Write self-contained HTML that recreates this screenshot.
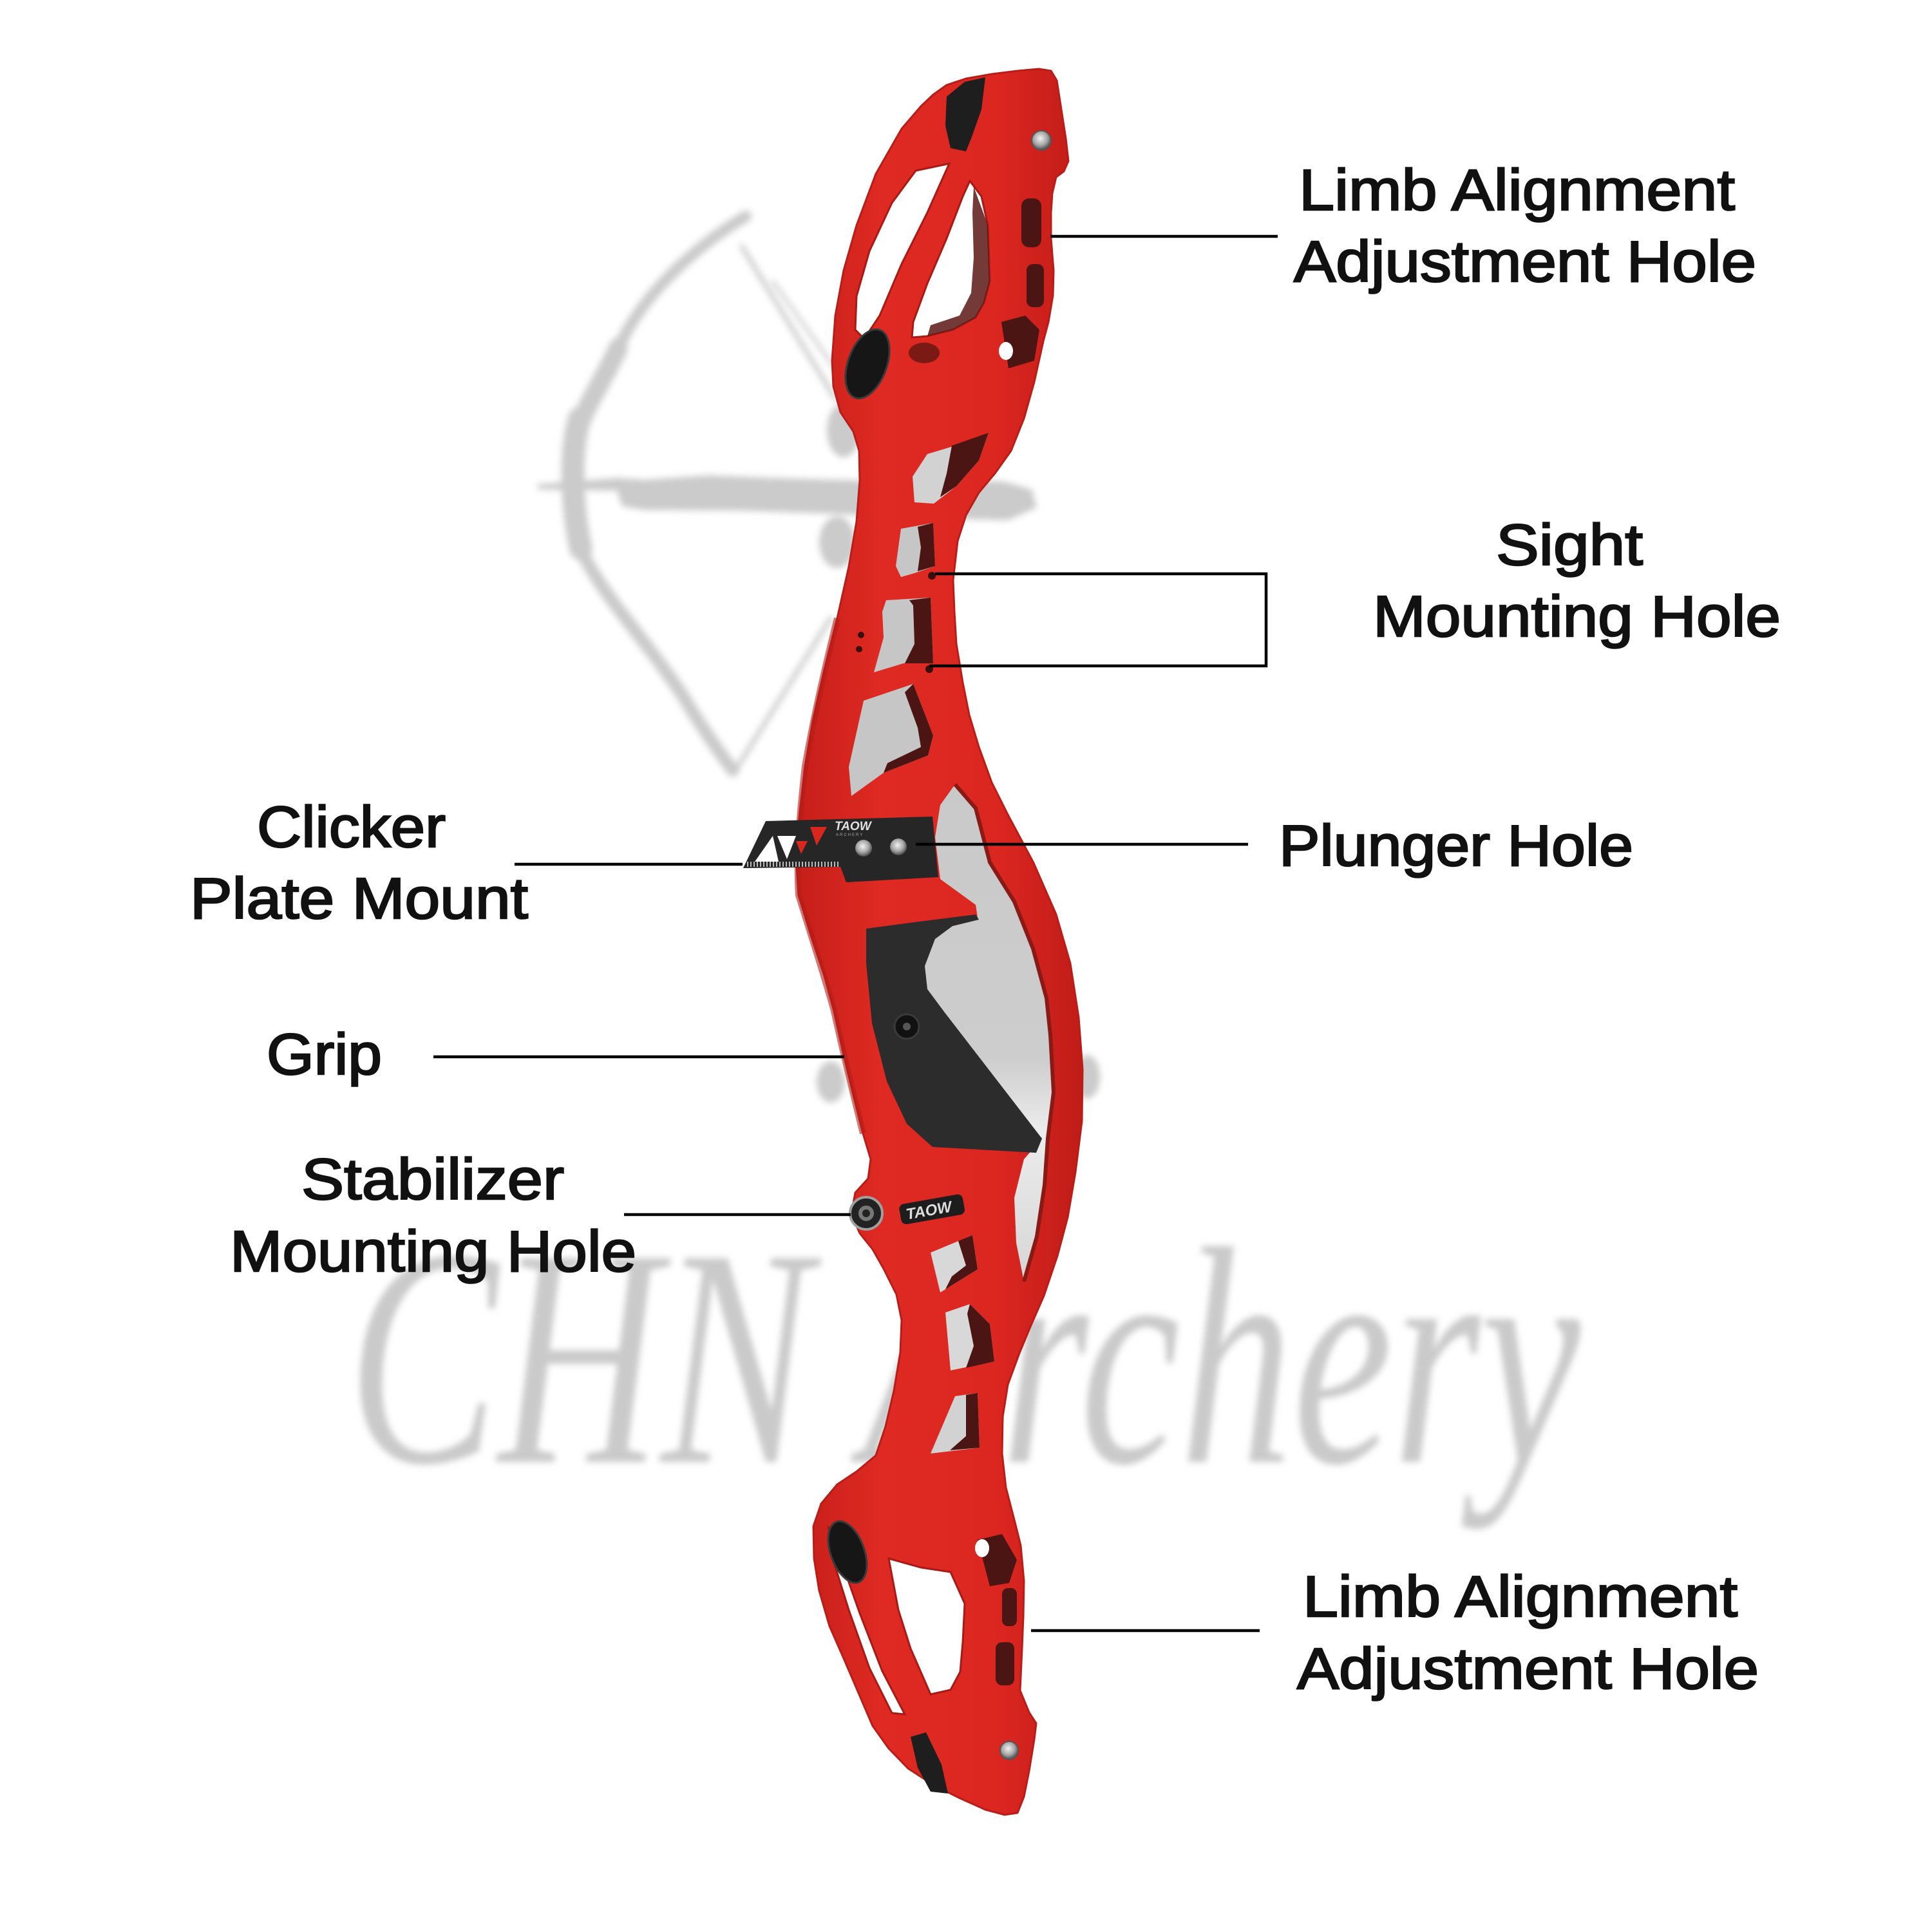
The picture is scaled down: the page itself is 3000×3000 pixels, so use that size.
<!DOCTYPE html>
<html><head><meta charset="utf-8">
<style>html,body{margin:0;padding:0;background:#fff;width:3000px;height:3000px;overflow:hidden}svg{display:block}</style></head>
<body>
<svg width="3000" height="3000" viewBox="0 0 3000 3000" xmlns="http://www.w3.org/2000/svg">
<defs>
<filter id="blur" x="-10%" y="-10%" width="120%" height="120%"><feGaussianBlur stdDeviation="5"/></filter>
<linearGradient id="red" x1="0" x2="1" y1="0" y2="0">
 <stop offset="0" stop-color="#c51e19"/><stop offset="0.3" stop-color="#df2a23"/><stop offset="0.7" stop-color="#dc2620"/><stop offset="1" stop-color="#c01c18"/>
</linearGradient>
<radialGradient id="silver" cx="0.45" cy="0.4" r="0.6"><stop offset="0" stop-color="#f2f2f2"/><stop offset="0.6" stop-color="#a5a5a5"/><stop offset="1" stop-color="#4a4a4a"/></radialGradient>
<linearGradient id="win" x1="0" y1="0" x2="0" y2="1">
 <stop offset="0" stop-color="#c9c9c9"/><stop offset="0.55" stop-color="#cdcdcd"/><stop offset="0.7" stop-color="#ececec"/><stop offset="1" stop-color="#d6d6d6"/>
</linearGradient>
</defs>
<rect width="3000" height="3000" fill="#fff"/>

<!-- watermark bow -->
<g filter="url(#blur)" fill="none" stroke="#cbcbcb" stroke-linecap="round" stroke-linejoin="round">
 <path d="M1158,336 C1100,370 1010,440 965,530 C945,575 918,618 900,655" stroke-width="18"/>
 <path d="M960,540 C940,585 915,620 900,660" stroke-width="30"/>
 <path d="M900,650 C884,700 888,790 902,852" stroke-width="36"/>
 <path d="M905,860 C940,930 1000,990 1060,1080 C1090,1130 1118,1170 1138,1196" stroke-width="20"/>
 <path d="M1152,383 L1297,619" stroke-width="7"/>
 <path d="M1290,960 L1142,1196" stroke-width="7"/>
 <path d="M1200,437 L1296,571" stroke-width="5"/>
</g>
<g filter="url(#blur)" fill="#cbcbcb">
 <polygon points="835,752 960,742 1000,745 1100,738 1200,742 1336,746 1450,742 1560,748 1602,760 1610,788 1565,808 1400,803 1300,798 1150,793 1000,792 966,786 958,762 835,760"/>
 <ellipse cx="1310" cy="668" rx="26" ry="42"/>
 <ellipse cx="1300" cy="842" rx="28" ry="40"/>
 <ellipse cx="1688" cy="1672" rx="20" ry="34"/>
 <ellipse cx="1290" cy="1680" rx="22" ry="32"/>
</g>
<!-- watermark text -->
<g filter="url(#blur)">
<text x="540" y="2270" font-family="Liberation Serif, serif" font-style="italic" font-size="420" fill="#cacaca" textLength="1914" lengthAdjust="spacingAndGlyphs" transform="translate(0,2270) scale(1,1.15) translate(0,-2270)">CHN Archery</text>
</g>

<!-- riser main silhouette -->
<polygon fill="url(#red)" stroke="#b81d18" stroke-width="3" stroke-linejoin="round" points="1449,147 1470,132 1500,122 1540,115 1580,110 1613,107 1632,110 1641,125 1648,170 1655,215 1659,250 1652,266 1640,275 1634,300 1632,330 1632,370 1636,420 1635,459 1628,500 1620,530 1606,593 1590,650 1570,700 1545,735 1520,765 1500,800 1487,840 1480,901 1482,950 1485,1000 1495,1060 1505,1110 1520,1160 1540,1215 1565,1265 1605,1340 1640,1420 1662,1496 1675,1580 1681,1660 1680,1741 1670,1820 1658,1890 1642,1950 1621,2012 1600,2060 1583,2101 1565,2150 1557,2200 1556,2257 1562,2310 1575,2360 1585,2400 1590,2455 1589,2510 1587,2560 1584,2625 1598,2659 1609,2676 1606,2701 1598,2750 1590,2790 1580,2815 1560,2818 1530,2810 1490,2792 1450,2772 1410,2746 1380,2715 1355,2680 1334,2631 1310,2575 1288,2525 1272,2470 1264,2420 1263,2370 1275,2335 1300,2305 1330,2285 1360,2260 1375,2215 1388,2160 1398,2100 1400,2050 1392,2010 1372,1970 1355,1940 1335,1915 1322,1885 1328,1852 1348,1830 1352,1800 1340,1760 1325,1700 1310,1638 1295,1570 1280,1515 1260,1455 1240,1390 1236,1330 1242,1260 1250,1190 1262,1120 1280,1040 1300,960 1318,880 1330,810 1335,746 1334,700 1325,670 1305,640 1294,600 1292,560 1297,490 1310,420 1330,350 1360,270 1400,200 1430,165"/>
<!-- subtle shading along left edge -->
<path d="M1300,960 C1280,1040 1262,1120 1250,1190 C1242,1260 1236,1330 1240,1390 C1260,1455 1280,1515 1295,1570 C1310,1638 1325,1700 1340,1760" fill="none" stroke="#b51c17" stroke-width="10" opacity="0.6"/>

<!-- upper pocket -->
<polygon fill="#1e1e1e" points="1470,150 1498,127 1530,120 1524,170 1508,215 1500,235 1476,230 1468,195"/>
<polygon fill="#fff" stroke="#a81a15" stroke-width="3" points="1422,265 1474,254 1440,330 1400,410 1366,490 1342,526 1328,512 1330,460 1350,390 1385,315"/>
<polygon fill="#fff" stroke="#a81a15" stroke-width="3" points="1506,281 1524,305 1534,350 1537,437 1528,470 1515,493 1480,512 1440,522 1416,524 1418,500 1440,440 1470,370 1495,305"/>
<polygon fill="#5a1814" opacity="0.85" points="1512,290 1534,350 1537,437 1528,470 1515,493 1480,512 1440,522 1445,505 1490,490 1508,455 1512,400 1510,330"/>
<ellipse cx="1435" cy="548" rx="24" ry="16" fill="#5a1511" opacity="0.75"/>
<rect x="1586" y="308" width="31" height="76" rx="12" fill="#4a1512"/>
<rect x="1594" y="410" width="27" height="67" rx="10" fill="#4a1512"/>
<polygon fill="#4a1512" points="1555,500 1592,490 1614,512 1606,560 1566,572"/>
<ellipse cx="1562" cy="545" rx="11" ry="14" fill="#fff"/>
<ellipse cx="1347" cy="565" rx="30" ry="56" transform="rotate(20 1347 565)" fill="#161616" stroke="#3a3a3a" stroke-width="3"/>
<circle cx="1617" cy="218" r="15" fill="url(#silver)" stroke="#555" stroke-width="2"/>

<!-- upper body holes -->
<polygon fill="#d2d2d2" points="1420,780 1417,740 1440,705 1490,690 1535,672 1520,715 1485,755 1450,782"/>
<polygon fill="#4a1512" points="1478,692 1535,672 1520,715 1485,755 1460,772 1470,735"/>
<polygon fill="#c6c6c6" points="1399,821 1449,812 1452,879 1420,890 1399,896 1391,879 1395,850"/>
<polygon fill="#4a1512" points="1425,818 1449,812 1452,879 1425,887 1430,850"/>
<polygon fill="#c6c6c6" points="1376,932 1445,928 1449,1030 1403,1030 1357,1044 1372,990 1370,950"/>
<polygon fill="#4a1512" points="1412,932 1445,928 1449,1030 1405,1030 1420,1000 1418,940"/>
<polygon fill="#c6c6c6" points="1341,1088 1418,1062 1449,1142 1441,1173 1372,1200 1322,1236 1318,1191"/>
<polygon fill="#4a1512" points="1418,1062 1449,1142 1441,1173 1372,1200 1378,1185 1430,1160 1425,1130 1405,1075"/>
<circle cx="1447" cy="894" r="6" fill="#3a0e0c"/>
<circle cx="1443" cy="1039" r="6" fill="#3a0e0c"/>
<circle cx="1337" cy="986" r="5" fill="#3a0e0c"/>
<circle cx="1334" cy="1008" r="5" fill="#3a0e0c"/>

<!-- lower big window -->
<polygon fill="url(#win)" points="1483,1218 1515,1255 1537,1339 1575,1400 1604,1473 1625,1550 1631,1607 1636,1696 1627,1768 1622,1840 1610,1920 1590,1990 1578,1930 1575,1860 1590,1800 1618,1768 1520,1660 1440,1560 1428,1500 1452,1445 1518,1425 1515,1405 1460,1365 1452,1300 1460,1250"/>
<path d="M1483,1218 L1515,1255 1537,1339 1575,1400 1604,1473 1625,1550 1631,1607 1636,1696 1627,1768 1622,1840 1610,1920 1590,1990" fill="none" stroke="#8a1a15" stroke-width="6"/>

<!-- grip -->
<polygon fill="#2c2c2c" points="1345,1442 1420,1432 1515,1420 1520,1428 1479,1438 1452,1458 1436,1500 1440,1536 1466,1571 1618,1768 1609,1790 1448,1781 1408,1745 1377,1679 1354,1589 1345,1496"/>
<circle cx="1408" cy="1594" r="19" fill="#111" stroke="#3a3a3a" stroke-width="3"/>
<circle cx="1408" cy="1594" r="6" fill="#555"/>

<!-- clicker plate -->
<polygon fill="#262626" points="1154,1348 1189,1275 1448,1268 1457,1362 1314,1370 1305,1346"/>
<polygon fill="#fff" points="1172,1338 1200,1298 1209,1338"/>
<polygon fill="#fff" points="1207,1298 1236,1298 1222,1334"/>
<polygon fill="#d9261f" points="1258,1284 1284,1284 1268,1313"/>
<polygon fill="#d9261f" points="1236,1306 1254,1306 1244,1326"/>
<line x1="1160" y1="1342" x2="1305" y2="1342" stroke="#bbb" stroke-width="8" stroke-dasharray="2 3"/>
<circle cx="1341" cy="1317" r="13" fill="url(#silver)"/>
<circle cx="1395" cy="1315" r="13" fill="url(#silver)"/>
<text x="1296" y="1289" font-family="Liberation Sans, sans-serif" font-size="19" font-style="italic" font-weight="bold" fill="#e0e0e0">TAOW</text>
<text x="1298" y="1298" font-family="Liberation Sans, sans-serif" font-size="6" fill="#aaa" letter-spacing="2">ARCHERY</text>

<!-- stabilizer -->
<circle cx="1345" cy="1884" r="25" fill="#222" stroke="#a0a0a0" stroke-width="4"/>
<circle cx="1345" cy="1884" r="12" fill="#777"/>
<circle cx="1345" cy="1884" r="6" fill="#222"/>
<g transform="rotate(-10 1446 1877)">
<rect x="1397" y="1862" width="100" height="32" rx="8" fill="#1d1d1d"/>
<text x="1406" y="1887" font-family="Liberation Sans, sans-serif" font-size="24" font-style="italic" font-weight="bold" fill="#ddd">TAOW</text>
</g>

<!-- lower body holes -->
<polygon fill="#d8d8d8" points="1445,1945 1510,1918 1518,1971 1460,2007"/>
<polygon fill="#4a1512" points="1488,1927 1510,1918 1518,1971 1468,2002 1478,1982 1500,1965"/>
<polygon fill="#d8d8d8" points="1468,2038 1506,2025 1537,2056 1544,2114 1476,2128"/>
<polygon fill="#4a1512" points="1506,2025 1537,2056 1544,2114 1500,2124 1512,2090 1502,2040"/>
<polygon fill="#d2d2d2" points="1483,2168 1518,2163 1521,2248 1445,2257"/>
<polygon fill="#4a1512" points="1500,2166 1518,2163 1521,2248 1475,2252 1500,2230"/>

<!-- lower pocket -->
<polygon fill="#fff" stroke="#a81a15" stroke-width="3" points="1286,2370 1305,2420 1335,2505 1370,2595 1405,2662 1385,2660 1350,2590 1318,2500 1293,2420"/>
<polygon fill="#fff" stroke="#a81a15" stroke-width="3" points="1380,2420 1430,2434 1476,2441 1498,2490 1495,2550 1491,2596 1476,2624 1445,2631 1414,2560 1395,2500"/>
<polygon fill="#4a1512" points="1518,2391 1556,2382 1579,2422 1567,2458 1537,2463"/>
<ellipse cx="1525" cy="2404" rx="11" ry="14" fill="#fff"/>
<rect x="1556" y="2466" width="23" height="59" rx="9" fill="#4a1512"/>
<rect x="1546" y="2550" width="29" height="67" rx="10" fill="#4a1512"/>
<ellipse cx="1316" cy="2410" rx="26" ry="50" transform="rotate(-20 1316 2410)" fill="#161616" stroke="#3a3a3a" stroke-width="3"/>
<polygon fill="#1e1e1e" points="1414,2697 1438,2690 1462,2740 1472,2785 1445,2782 1425,2745"/>
<circle cx="1567" cy="2718" r="14" fill="url(#silver)" stroke="#555" stroke-width="2"/>

<!-- leader lines -->
<g stroke="#000" stroke-width="4.5" fill="none">
 <line x1="1631" y1="367" x2="1984" y2="367"/>
 <polyline points="1452,891 1966,891 1966,1034 1443,1034"/>
 <line x1="1422" y1="1311" x2="1938" y2="1311"/>
 <line x1="799" y1="1342" x2="1153" y2="1342"/>
 <line x1="673" y1="1641" x2="1311" y2="1641"/>
 <line x1="969" y1="1886" x2="1321" y2="1886"/>
 <line x1="1601" y1="2532" x2="1956" y2="2532"/>
</g>

<!-- labels -->
<g font-family="Liberation Sans, sans-serif" font-size="90" fill="#111" stroke="#111" stroke-width="2.5">
 <text x="2017" y="326" textLength="677" lengthAdjust="spacingAndGlyphs">Limb Alignment</text>
 <text x="2009" y="437" textLength="718" lengthAdjust="spacingAndGlyphs">Adjustment Hole</text>
 <text x="2323" y="877" textLength="228" lengthAdjust="spacingAndGlyphs">Sight</text>
 <text x="2132" y="988" textLength="633" lengthAdjust="spacingAndGlyphs">Mounting Hole</text>
 <text x="1986" y="1344" textLength="550" lengthAdjust="spacingAndGlyphs">Plunger Hole</text>
 <text x="399" y="1315" textLength="293" lengthAdjust="spacingAndGlyphs">Clicker</text>
 <text x="295" y="1426" textLength="525" lengthAdjust="spacingAndGlyphs">Plate Mount</text>
 <text x="414" y="1668" textLength="179" lengthAdjust="spacingAndGlyphs">Grip</text>
 <text x="468" y="1862" textLength="408" lengthAdjust="spacingAndGlyphs">Stabilizer</text>
 <text x="357" y="1974" textLength="631" lengthAdjust="spacingAndGlyphs">Mounting Hole</text>
 <text x="2023" y="2510" textLength="675" lengthAdjust="spacingAndGlyphs">Limb Alignment</text>
 <text x="2014" y="2622" textLength="717" lengthAdjust="spacingAndGlyphs">Adjustment Hole</text>
</g>
</svg>
</body></html>
